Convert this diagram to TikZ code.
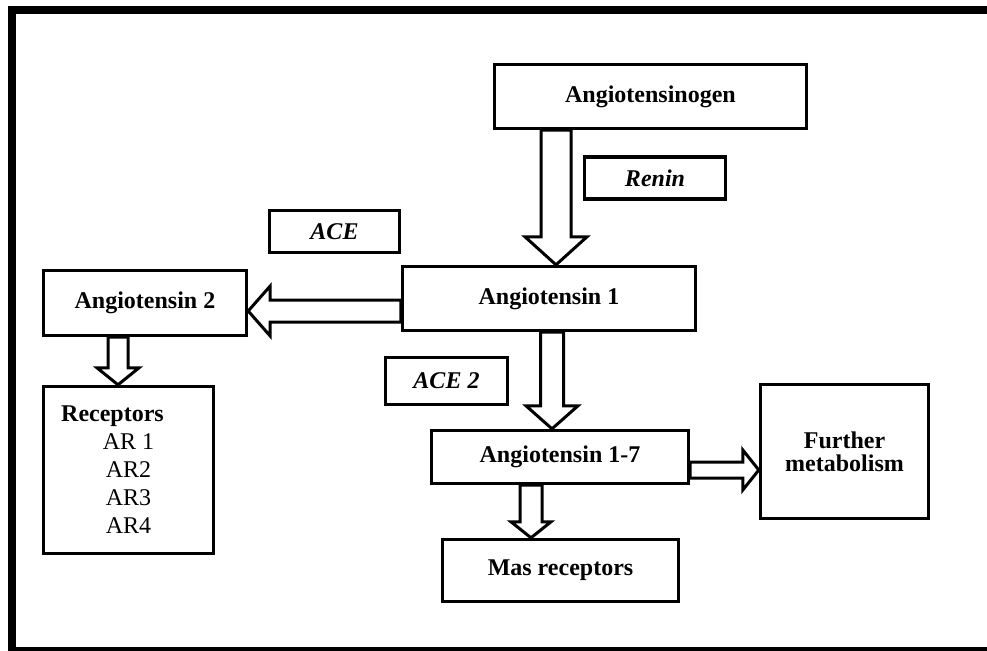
\documentclass[tikz,border=0pt]{standalone}
\usepackage{fontspec}
\setmainfont{Liberation Serif}
\usetikzlibrary{calc}

\begin{document}
\begin{tikzpicture}[x=0.5pt,y=-0.5pt,line join=miter,
  box/.style={draw,line width=1.7pt,inner sep=0pt,align=center,font=\fontsize{12}{14}\selectfont\bfseries},
  tag/.style={box,font=\fontsize{12}{14}\selectfont\bfseries\itshape},
  hollow/.style n args={3}{draw,fill=white,line width=1.5pt,to path={
    (\tikztostart) coordinate (s0) (\tikztotarget) coordinate (t0)
    ($(t0)!#3!(s0)$) coordinate (hb)
    ($(s0)!#1!90:(t0)$) -- ($(hb)!#1!-90:(s0)$) -- ($(hb)!#2!-90:(s0)$) -- (t0)
    -- ($(hb)!#2!90:(s0)$) -- ($(hb)!#1!90:(s0)$) -- ($(s0)!#1!-90:(t0)$) -- cycle}}]
\useasboundingbox (0,0) rectangle (987,650);
\draw[line width=4pt] (987,651) -- (11.5,651) -- (11.5,10) -- (987,10);

\draw node[box,minimum width=156pt,minimum height=32pt] (agen) at (650.5,96.5) {Angiotensinogen};
\draw node[tag,minimum width=70.5pt,minimum height=21pt] (renin) at (655,178) {Renin};
\draw node[tag,minimum width=65pt,minimum height=21pt] (ace) at (334.5,231.5) {ACE};
\draw node[box,minimum width=146.5pt,minimum height=32pt] (a1) at (549,298.5) {Angiotensin 1};
\draw node[box,minimum width=101.5pt,minimum height=32.5pt] (a2) at (145,303) {Angiotensin 2};
\draw node[tag,minimum width=61pt,minimum height=23.5pt] (ace2) at (446.5,381) {ACE 2};
\draw node[box,minimum width=128.5pt,minimum height=26.5pt] (a17) at (560,457) {Angiotensin 1-7};
\draw node[box,minimum width=84pt,minimum height=67pt,font=\fontsize{12}{11.5}\selectfont\bfseries] (fm) at (844.5,451.5) {Further\\metabolism};
\draw node[box,minimum width=118pt,minimum height=31pt] (mas) at (560.5,570.5) {Mas receptors};
\draw node[box,minimum width=85pt,minimum height=83.5pt,font=\fontsize{12}{14}\selectfont] (rec) at (128.5,470) {\textbf{Receptors}\hspace*{16pt}\\AR 1\\AR2\\AR3\\AR4};

\draw[hollow={7.5pt}{15.5pt}{14pt}] ($(agen.south)+(-94.5,0)$) to ($(a1.north)+(7,0)$);
\draw[hollow={5.5pt}{12.5pt}{11pt}] ($(a1.west)+(0,12.5)$) to ($(a2.east)+(0,8)$);
\draw[hollow={5pt}{10.5pt}{8.5pt}] ($(a2.south)+(-27,0)$) to ($(rec.north)+(-10.5,0)$);
\draw[hollow={5.75pt}{13pt}{11.5pt}] ($(a1.south)+(3,0)$) to ($(a17.north)+(-8,0)$);
\draw[hollow={5.5pt}{10pt}{8pt}] ($(a17.south)+(-29,0)$) to ($(mas.north)+(-29.5,0)$);
\draw[hollow={4pt}{10pt}{8pt}] ($(a17.east)+(0,13)$) to ($(fm.west)+(0,18.5)$);
\end{tikzpicture}
\end{document}
